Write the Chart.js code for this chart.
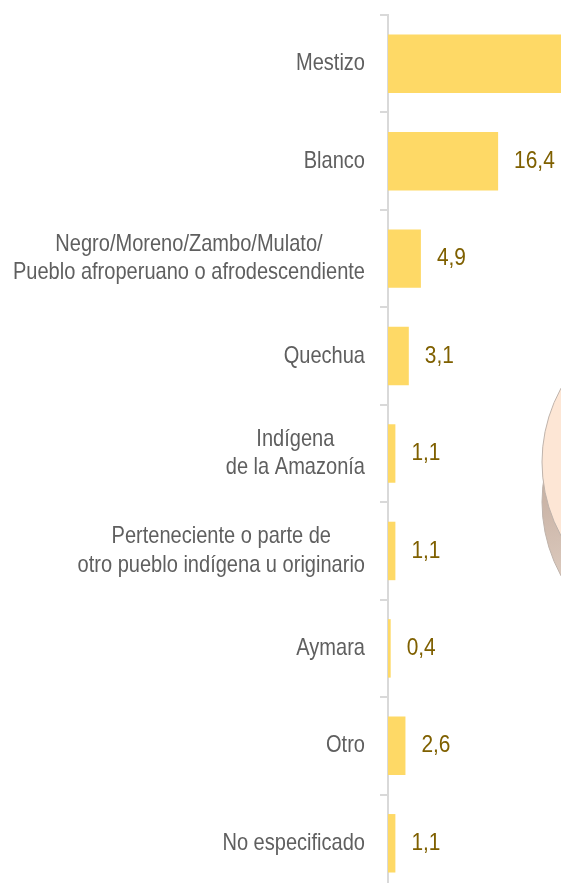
<!DOCTYPE html>
<html>
<head>
<meta charset="utf-8">
<script src="https://cdn.jsdelivr.net/npm/chart.js@4.4.1/dist/chart.umd.min.js"></script>
<style>
    html, body { margin: 0; padding: 0; background: #fff; overflow: hidden; }
    #wrap { position: absolute; left: 0; top: 0; width: 858px; height: 892px; }
</style>
</head>
<body>
<div id="wrap"><canvas id="chart"></canvas></div>
<script>
// Categories (multi-line labels as arrays)
const categories = [
    'Mestizo',
    'Blanco',
    ['Negro/Moreno/Zambo/Mulato/', 'Pueblo afroperuano o afrodescendiente'],
    'Quechua',
    ['Indígena', 'de la Amazonía'],
    ['Perteneciente o parte de', 'otro pueblo indígena u originario'],
    'Aymara',
    'Otro',
    'No especificado'
];

// Percentages (Mestizo runs off the visible edge, estimated)
const values = [69.3, 16.4, 4.9, 3.1, 1.1, 1.1, 0.4, 2.6, 1.1];

const textFont = "24px 'Liberation Sans', Arial, sans-serif";
const lineGap = 28.5;

// Draw narrow text (the original typeface is a condensed one)
function drawNarrow(ctx, txt, x, y, align, squeeze) {
    ctx.save();
    ctx.translate(x, y);
    ctx.scale(squeeze, 1);
    ctx.textAlign = align;
    ctx.fillText(txt, 0, 0);
    ctx.restore();
}

// Category labels: each block right-aligned to the axis, lines centred within it
const categoryLabels = {
    id: 'categoryLabels',
    afterDraw(chart) {
        const ctx = chart.ctx;
        const yScale = chart.scales.y;
        const right = yScale.right - 8 - 15;
        const squeeze = 0.835;
        ctx.save();
        ctx.font = textFont;
        ctx.fillStyle = '#5f5f5f';
        ctx.textBaseline = 'middle';
        categories.forEach((label, i) => {
            const lines = Array.isArray(label) ? label : [label];
            const widest = Math.max(...lines.map(l => ctx.measureText(l).width)) * squeeze;
            const cx = right - widest / 2;
            const yc = yScale.getPixelForValue(i);
            lines.forEach((line, k) => {
                const y = yc + (k - (lines.length - 1) / 2) * lineGap;
                drawNarrow(ctx, line, cx, y, 'center', squeeze);
            });
        });
        ctx.restore();
    }
};

// Value labels right of each bar, decimal comma
const valueLabels = {
    id: 'valueLabels',
    afterDatasetsDraw(chart) {
        const ctx = chart.ctx;
        const meta = chart.getDatasetMeta(0);
        ctx.save();
        ctx.fillStyle = '#7f6000';
        ctx.font = textFont;
        ctx.textBaseline = 'middle';
        meta.data.forEach((bar, i) => {
            const txt = values[i].toFixed(1).replace('.', ',');
            drawNarrow(ctx, txt, bar.x + 16, bar.y, 'left', 0.87);
        });
        ctx.restore();
    }
};

// Edge of the neighbouring 3D pie graphic, mostly outside the frame
const pieEdge = {
    id: 'pieEdge',
    afterDraw(chart) {
        const ctx = chart.ctx;
        ctx.save();
        const g = ctx.createLinearGradient(540, 480, 561, 580);
        g.addColorStop(0, '#c6afa1');
        g.addColorStop(1, '#dccabe');
        ctx.fillStyle = g;
        ctx.strokeStyle = '#bfb3ab';
        ctx.lineWidth = 1;
        ctx.beginPath();
        ctx.ellipse(700, 502, 158, 155, 0, 0, Math.PI * 2);
        ctx.fill();
        ctx.stroke();
        ctx.fillStyle = '#fde6d5';
        ctx.beginPath();
        ctx.ellipse(700, 462, 158, 155, 0, 0, Math.PI * 2);
        ctx.fill();
        ctx.stroke();
        ctx.restore();
    }
};

const ctx = document.getElementById('chart').getContext('2d');
const chart = new Chart(ctx, {
    type: 'bar',
    data: {
        labels: categories,
        datasets: [{
            data: values,
            backgroundColor: '#fed966',
            borderWidth: 0,
            barPercentage: 0.6,
            categoryPercentage: 1.0
        }]
    },
    options: {
        indexAxis: 'y',
        responsive: true,
        maintainAspectRatio: false,
        animation: false,
        layout: { padding: { top: 15, left: 0, right: 0, bottom: 0 } },
        plugins: {
            legend: { display: false },
            tooltip: { enabled: false }
        },
        scales: {
            x: {
                display: false,
                min: 0,
                max: 70
            },
            y: {
                afterFit(scale) {
                    scale.width = 388;
                    scale.paddingTop = 0;
                    scale.paddingBottom = 0;
                },
                border: { display: true, color: '#d9d9d9', width: 2 },
                grid: {
                    drawOnChartArea: false,
                    offset: true,
                    tickLength: 8,
                    color: '#d9d9d9',
                    lineWidth: 2
                },
                ticks: { display: false }
            }
        }
    },
    plugins: [categoryLabels, valueLabels, pieEdge]
});
</script>
</body>
</html>
